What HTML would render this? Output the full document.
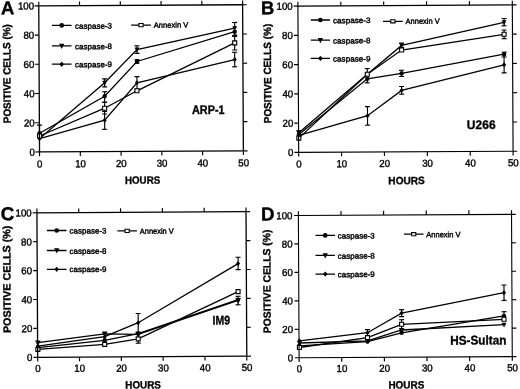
<!DOCTYPE html>
<html><head><meta charset="utf-8"><title>Figure</title>
<style>
html,body{margin:0;padding:0;background:#fff;}
svg{display:block;font-family:"Liberation Sans", sans-serif;}
</style></head><body>
<svg width="520" height="389" viewBox="0 0 520 389">
<defs><filter id="soft" x="0" y="0" width="520" height="389" filterUnits="userSpaceOnUse"><feGaussianBlur stdDeviation="0.35"/></filter></defs>
<rect width="520" height="389" fill="#fff"/>
<g filter="url(#soft)">
<g transform="rotate(-0.3 141.07 78.35)" fill="#000">
<text x="39.35" y="166.90" font-size="10.2" stroke="#000" stroke-width="0.4" text-anchor="middle" textLength="5.40" lengthAdjust="spacingAndGlyphs">0</text>
<text x="80.12" y="166.90" font-size="10.2" stroke="#000" stroke-width="0.4" text-anchor="middle" textLength="10.80" lengthAdjust="spacingAndGlyphs">10</text>
<text x="120.89" y="166.90" font-size="10.2" stroke="#000" stroke-width="0.4" text-anchor="middle" textLength="10.80" lengthAdjust="spacingAndGlyphs">20</text>
<text x="161.66" y="166.90" font-size="10.2" stroke="#000" stroke-width="0.4" text-anchor="middle" textLength="10.80" lengthAdjust="spacingAndGlyphs">30</text>
<text x="202.43" y="166.90" font-size="10.2" stroke="#000" stroke-width="0.4" text-anchor="middle" textLength="10.80" lengthAdjust="spacingAndGlyphs">40</text>
<text x="243.20" y="166.90" font-size="10.2" stroke="#000" stroke-width="0.4" text-anchor="middle" textLength="10.80" lengthAdjust="spacingAndGlyphs">50</text>
<text x="34.45" y="155.05" font-size="10.2" stroke="#000" stroke-width="0.4" text-anchor="end" textLength="5.40" lengthAdjust="spacingAndGlyphs">0</text>
<text x="34.45" y="125.83" font-size="10.2" stroke="#000" stroke-width="0.4" text-anchor="end" textLength="10.80" lengthAdjust="spacingAndGlyphs">20</text>
<text x="34.45" y="96.61" font-size="10.2" stroke="#000" stroke-width="0.4" text-anchor="end" textLength="10.80" lengthAdjust="spacingAndGlyphs">40</text>
<text x="34.45" y="67.39" font-size="10.2" stroke="#000" stroke-width="0.4" text-anchor="end" textLength="10.80" lengthAdjust="spacingAndGlyphs">60</text>
<text x="34.45" y="38.17" font-size="10.2" stroke="#000" stroke-width="0.4" text-anchor="end" textLength="10.80" lengthAdjust="spacingAndGlyphs">80</text>
<text x="34.45" y="8.95" font-size="10.2" stroke="#000" stroke-width="0.4" text-anchor="end" textLength="16.20" lengthAdjust="spacingAndGlyphs">100</text>
<text x="142.05" y="183.81" font-size="10.6" font-weight="bold" stroke="#000" stroke-width="0.35" text-anchor="middle" textLength="35.20" lengthAdjust="spacingAndGlyphs">HOURS</text>
<text x="10.53" y="73.02" font-size="10.4" font-weight="bold" stroke="#000" stroke-width="0.35" text-anchor="middle" textLength="99.00" lengthAdjust="spacingAndGlyphs" transform="rotate(-90 10.53 73.02)">POSITIVE CELLS (%)</text>
<text x="1.24" y="13.47" font-size="18.5" font-weight="bold" stroke="#000" stroke-width="0.35">A</text>
<text x="191.81" y="114.32" font-size="12.4" font-weight="bold" stroke="#000" stroke-width="0.35" textLength="32.60" lengthAdjust="spacingAndGlyphs">ARP-1</text>
<polyline points="39.29,137.97 104.63,82.61 137.15,49.48 234.96,28.69" fill="none" stroke="#000" stroke-width="1.3"/>
<polyline points="39.31,132.77 104.56,96.11 137.09,61.48 234.94,32.19" fill="none" stroke="#000" stroke-width="1.3"/>
<polyline points="39.29,137.97 104.43,120.01 136.98,82.78 234.80,60.09" fill="none" stroke="#000" stroke-width="1.3"/>
<polyline points="39.30,135.47 104.49,108.01 136.93,90.78 234.88,43.39" fill="none" stroke="#000" stroke-width="1.3"/>
<path d="M104.63,78.71V86.71M102.13,78.71h5.0M102.13,86.71h5.0M137.15,45.78V53.38M134.65,45.78h5.0M134.65,53.38h5.0M234.96,22.94V28.69M232.46,22.94h5.0M39.31,124.57V132.77M36.81,124.57h5.0M104.56,91.51V101.81M102.06,91.51h5.0M102.06,101.81h5.0M137.09,59.68V63.28M134.59,59.68h5.0M134.59,63.28h5.0M234.94,32.19V35.69M232.44,35.69h5.0M104.43,111.31V129.11M101.93,111.31h5.0M101.93,129.11h5.0M136.98,76.58V88.98M134.48,76.58h5.0M134.48,88.98h5.0M234.80,52.79V67.29M232.30,52.79h5.0M232.30,67.29h5.0M104.49,102.21V113.81M101.99,102.21h5.0M101.99,113.81h5.0M234.88,36.89V50.49M232.38,36.89h5.0M232.38,50.49h5.0" fill="none" stroke="#000" stroke-width="1.15"/>
<polygon points="36.84,135.97 41.74,135.97 39.29,140.87"/>
<polygon points="102.18,80.61 107.08,80.61 104.63,85.51"/>
<polygon points="134.70,47.48 139.60,47.48 137.15,52.38"/>
<polygon points="232.51,26.69 237.41,26.69 234.96,31.59"/>
<circle cx="39.31" cy="132.77" r="2.20"/>
<circle cx="104.56" cy="96.11" r="2.20"/>
<circle cx="137.09" cy="61.48" r="2.20"/>
<circle cx="234.94" cy="32.19" r="2.20"/>
<polygon points="37.19,137.97 39.29,135.47 41.39,137.97 39.29,140.47"/>
<polygon points="102.33,120.01 104.43,117.51 106.53,120.01 104.43,122.51"/>
<polygon points="134.88,82.78 136.98,80.28 139.08,82.78 136.98,85.28"/>
<polygon points="232.70,60.09 234.80,57.59 236.90,60.09 234.80,62.59"/>
<rect x="37.30" y="133.47" width="4.00" height="4.00" fill="#fff" stroke="#000" stroke-width="1.1"/>
<rect x="102.49" y="106.01" width="4.00" height="4.00" fill="#fff" stroke="#000" stroke-width="1.1"/>
<rect x="134.93" y="88.78" width="4.00" height="4.00" fill="#fff" stroke="#000" stroke-width="1.1"/>
<rect x="232.88" y="41.39" width="4.00" height="4.00" fill="#fff" stroke="#000" stroke-width="1.1"/>
<path d="M39.15,5.30H243.00V151.40H39.15Z" fill="none" stroke="#000" stroke-width="1.3"/>
<path d="M39.15,151.40v4.2M39.15,5.30v-4.2M79.92,151.40v4.2M79.92,5.30v-4.2M120.69,151.40v4.2M120.69,5.30v-4.2M161.46,151.40v4.2M161.46,5.30v-4.2M202.23,151.40v4.2M202.23,5.30v-4.2M243.00,151.40v4.2M243.00,5.30v-4.2M39.15,151.40h-4.2M243.00,151.40h4.2M39.15,122.18h-4.2M243.00,122.18h4.2M39.15,92.96h-4.2M243.00,92.96h4.2M39.15,63.74h-4.2M243.00,63.74h4.2M39.15,34.52h-4.2M243.00,34.52h4.2M39.15,5.30h-4.2M243.00,5.30h4.2" fill="none" stroke="#000" stroke-width="1.15"/>
<path d="M52.18,24.93L71.78,25.04" stroke="#000" stroke-width="1.3"/>
<circle cx="61.98" cy="24.99" r="2.35"/>
<text x="75.31" y="28.45" font-size="7.8" stroke="#000" stroke-width="0.4" textLength="37.00" lengthAdjust="spacingAndGlyphs">caspase-3</text>
<path d="M52.07,45.43L71.67,45.54" stroke="#000" stroke-width="1.3"/>
<polygon points="59.25,43.34 64.49,43.34 61.87,48.59"/>
<text x="75.20" y="48.95" font-size="7.8" stroke="#000" stroke-width="0.4" textLength="37.00" lengthAdjust="spacingAndGlyphs">caspase-8</text>
<path d="M51.98,63.73L71.58,63.84" stroke="#000" stroke-width="1.3"/>
<polygon points="59.53,63.78 61.78,61.11 64.02,63.78 61.78,66.46"/>
<text x="75.11" y="66.95" font-size="7.8" stroke="#000" stroke-width="0.4" textLength="37.00" lengthAdjust="spacingAndGlyphs">caspase-9</text>
<path d="M131.48,25.05L151.18,25.15" stroke="#000" stroke-width="1.3"/>
<rect x="139.23" y="23.50" width="4.20" height="3.20" fill="#fff" stroke="#000" stroke-width="1.1"/>
<text x="154.07" y="27.77" font-size="7.8" stroke="#000" stroke-width="0.4" textLength="34.60" lengthAdjust="spacingAndGlyphs">Annexin V</text>
</g>
<g transform="rotate(-0.3 405.50 78.65)" fill="#000">
<text x="298.50" y="166.90" font-size="10.2" stroke="#000" stroke-width="0.4" text-anchor="middle" textLength="5.40" lengthAdjust="spacingAndGlyphs">0</text>
<text x="341.38" y="166.90" font-size="10.2" stroke="#000" stroke-width="0.4" text-anchor="middle" textLength="10.80" lengthAdjust="spacingAndGlyphs">10</text>
<text x="384.26" y="166.90" font-size="10.2" stroke="#000" stroke-width="0.4" text-anchor="middle" textLength="10.80" lengthAdjust="spacingAndGlyphs">20</text>
<text x="427.14" y="166.90" font-size="10.2" stroke="#000" stroke-width="0.4" text-anchor="middle" textLength="10.80" lengthAdjust="spacingAndGlyphs">30</text>
<text x="470.02" y="166.90" font-size="10.2" stroke="#000" stroke-width="0.4" text-anchor="middle" textLength="10.80" lengthAdjust="spacingAndGlyphs">40</text>
<text x="512.90" y="166.90" font-size="10.2" stroke="#000" stroke-width="0.4" text-anchor="middle" textLength="10.80" lengthAdjust="spacingAndGlyphs">50</text>
<text x="293.10" y="155.45" font-size="10.2" stroke="#000" stroke-width="0.4" text-anchor="end" textLength="5.40" lengthAdjust="spacingAndGlyphs">0</text>
<text x="293.10" y="126.19" font-size="10.2" stroke="#000" stroke-width="0.4" text-anchor="end" textLength="10.80" lengthAdjust="spacingAndGlyphs">20</text>
<text x="293.10" y="96.93" font-size="10.2" stroke="#000" stroke-width="0.4" text-anchor="end" textLength="10.80" lengthAdjust="spacingAndGlyphs">40</text>
<text x="293.10" y="67.67" font-size="10.2" stroke="#000" stroke-width="0.4" text-anchor="end" textLength="10.80" lengthAdjust="spacingAndGlyphs">60</text>
<text x="293.10" y="38.41" font-size="10.2" stroke="#000" stroke-width="0.4" text-anchor="end" textLength="10.80" lengthAdjust="spacingAndGlyphs">80</text>
<text x="293.10" y="9.15" font-size="10.2" stroke="#000" stroke-width="0.4" text-anchor="end" textLength="16.20" lengthAdjust="spacingAndGlyphs">100</text>
<text x="406.05" y="184.20" font-size="10.6" font-weight="bold" stroke="#000" stroke-width="0.35" text-anchor="middle" textLength="36.50" lengthAdjust="spacingAndGlyphs">HOURS</text>
<text x="271.13" y="72.80" font-size="10.4" font-weight="bold" stroke="#000" stroke-width="0.35" text-anchor="middle" textLength="99.50" lengthAdjust="spacingAndGlyphs" transform="rotate(-90 271.13 72.80)">POSITIVE CELLS (%)</text>
<text x="261.34" y="13.44" font-size="18.5" font-weight="bold" stroke="#000" stroke-width="0.35">B</text>
<text x="466.54" y="129.37" font-size="12.4" font-weight="bold" stroke="#000" stroke-width="0.35" textLength="28.80" lengthAdjust="spacingAndGlyphs">U266</text>
<polyline points="298.57,132.24 367.32,74.10 401.77,45.38 504.39,22.87" fill="none" stroke="#000" stroke-width="1.3"/>
<polyline points="298.56,133.94 367.30,78.60 401.63,73.38 504.23,54.72" fill="none" stroke="#000" stroke-width="1.3"/>
<polyline points="298.55,134.74 367.31,115.50 401.54,90.38 504.17,65.32" fill="none" stroke="#000" stroke-width="1.3"/>
<polyline points="298.54,137.59 367.32,74.10 401.75,49.98 504.33,34.82" fill="none" stroke="#000" stroke-width="1.3"/>
<path d="M298.57,130.14V132.24M296.07,130.14h5.0M401.77,43.08V47.68M399.27,43.08h5.0M399.27,47.68h5.0M504.39,19.02V26.32M501.89,19.02h5.0M501.89,26.32h5.0M367.30,78.60V82.60M364.80,82.60h5.0M401.63,70.28V76.48M399.13,70.28h5.0M399.13,76.48h5.0M504.23,52.72V57.52M501.73,52.72h5.0M501.73,57.52h5.0M367.31,106.40V125.00M364.81,106.40h5.0M364.81,125.00h5.0M401.54,86.48V94.18M399.04,86.48h5.0M399.04,94.18h5.0M504.17,57.52V73.42M501.67,57.52h5.0M501.67,73.42h5.0M367.32,68.30V74.10M364.82,68.30h5.0M504.33,30.52V39.22M501.83,30.52h5.0M501.83,39.22h5.0" fill="none" stroke="#000" stroke-width="1.15"/>
<polygon points="296.12,130.24 301.02,130.24 298.57,135.14"/>
<polygon points="364.87,72.10 369.77,72.10 367.32,77.00"/>
<polygon points="399.32,43.38 404.22,43.38 401.77,48.28"/>
<polygon points="501.94,20.87 506.84,20.87 504.39,25.77"/>
<circle cx="298.56" cy="133.94" r="2.20"/>
<circle cx="367.30" cy="78.60" r="2.20"/>
<circle cx="401.63" cy="73.38" r="2.20"/>
<circle cx="504.23" cy="54.72" r="2.20"/>
<polygon points="296.45,134.74 298.55,132.24 300.65,134.74 298.55,137.24"/>
<polygon points="365.21,115.50 367.31,113.00 369.41,115.50 367.31,118.00"/>
<polygon points="399.44,90.38 401.54,87.88 403.64,90.38 401.54,92.88"/>
<polygon points="502.07,65.32 504.17,62.82 506.27,65.32 504.17,67.82"/>
<rect x="296.54" y="135.59" width="4.00" height="4.00" fill="#fff" stroke="#000" stroke-width="1.1"/>
<rect x="365.32" y="72.10" width="4.00" height="4.00" fill="#fff" stroke="#000" stroke-width="1.1"/>
<rect x="399.75" y="47.98" width="4.00" height="4.00" fill="#fff" stroke="#000" stroke-width="1.1"/>
<rect x="502.33" y="32.82" width="4.00" height="4.00" fill="#fff" stroke="#000" stroke-width="1.1"/>
<path d="M298.30,5.50H512.70V151.80H298.30Z" fill="none" stroke="#000" stroke-width="1.15"/>
<path d="M298.30,151.80v4.2M298.30,5.50v-4.2M341.18,151.80v4.2M341.18,5.50v-4.2M384.06,151.80v4.2M384.06,5.50v-4.2M426.94,151.80v4.2M426.94,5.50v-4.2M469.82,151.80v4.2M469.82,5.50v-4.2M512.70,151.80v4.2M512.70,5.50v-4.2M298.30,151.80h-4.2M512.70,151.80h4.2M298.30,122.54h-4.2M512.70,122.54h4.2M298.30,93.28h-4.2M512.70,93.28h4.2M298.30,64.02h-4.2M512.70,64.02h4.2M298.30,34.76h-4.2M512.70,34.76h4.2M298.30,5.50h-4.2M512.70,5.50h4.2" fill="none" stroke="#000" stroke-width="1.15"/>
<path d="M311.11,19.50L330.31,19.61" stroke="#000" stroke-width="1.3"/>
<circle cx="320.71" cy="19.56" r="2.35"/>
<text x="333.29" y="22.82" font-size="7.8" stroke="#000" stroke-width="0.4" textLength="37.60" lengthAdjust="spacingAndGlyphs">caspase-3</text>
<path d="M311.00,39.70L330.20,39.81" stroke="#000" stroke-width="1.3"/>
<polygon points="317.98,37.61 323.22,37.61 320.60,42.86"/>
<text x="333.19" y="43.12" font-size="7.8" stroke="#000" stroke-width="0.4" textLength="37.60" lengthAdjust="spacingAndGlyphs">caspase-8</text>
<path d="M310.91,57.90L330.11,58.00" stroke="#000" stroke-width="1.3"/>
<polygon points="318.26,57.95 320.51,55.28 322.75,57.95 320.51,60.63"/>
<text x="333.09" y="61.22" font-size="7.8" stroke="#000" stroke-width="0.4" textLength="37.60" lengthAdjust="spacingAndGlyphs">caspase-9</text>
<path d="M383.30,21.18L403.10,21.29" stroke="#000" stroke-width="1.3"/>
<rect x="391.10" y="19.63" width="4.20" height="3.20" fill="#fff" stroke="#000" stroke-width="1.1"/>
<text x="405.89" y="23.90" font-size="7.8" stroke="#000" stroke-width="0.4" textLength="34.20" lengthAdjust="spacingAndGlyphs">Annexin V</text>
</g>
<g transform="rotate(-0.3 141.85 284.50)" fill="#000">
<text x="37.50" y="371.50" font-size="10.2" stroke="#000" stroke-width="0.4" text-anchor="middle" textLength="5.40" lengthAdjust="spacingAndGlyphs">0</text>
<text x="79.32" y="371.50" font-size="10.2" stroke="#000" stroke-width="0.4" text-anchor="middle" textLength="10.80" lengthAdjust="spacingAndGlyphs">10</text>
<text x="121.14" y="371.50" font-size="10.2" stroke="#000" stroke-width="0.4" text-anchor="middle" textLength="10.80" lengthAdjust="spacingAndGlyphs">20</text>
<text x="162.96" y="371.50" font-size="10.2" stroke="#000" stroke-width="0.4" text-anchor="middle" textLength="10.80" lengthAdjust="spacingAndGlyphs">30</text>
<text x="204.78" y="371.50" font-size="10.2" stroke="#000" stroke-width="0.4" text-anchor="middle" textLength="10.80" lengthAdjust="spacingAndGlyphs">40</text>
<text x="246.60" y="371.50" font-size="10.2" stroke="#000" stroke-width="0.4" text-anchor="middle" textLength="10.80" lengthAdjust="spacingAndGlyphs">50</text>
<text x="32.10" y="360.40" font-size="10.2" stroke="#000" stroke-width="0.4" text-anchor="end" textLength="5.40" lengthAdjust="spacingAndGlyphs">0</text>
<text x="32.10" y="331.50" font-size="10.2" stroke="#000" stroke-width="0.4" text-anchor="end" textLength="10.80" lengthAdjust="spacingAndGlyphs">20</text>
<text x="32.10" y="302.60" font-size="10.2" stroke="#000" stroke-width="0.4" text-anchor="end" textLength="10.80" lengthAdjust="spacingAndGlyphs">40</text>
<text x="32.10" y="273.70" font-size="10.2" stroke="#000" stroke-width="0.4" text-anchor="end" textLength="10.80" lengthAdjust="spacingAndGlyphs">60</text>
<text x="32.10" y="244.80" font-size="10.2" stroke="#000" stroke-width="0.4" text-anchor="end" textLength="10.80" lengthAdjust="spacingAndGlyphs">80</text>
<text x="32.10" y="215.90" font-size="10.2" stroke="#000" stroke-width="0.4" text-anchor="end" textLength="16.20" lengthAdjust="spacingAndGlyphs">100</text>
<text x="142.56" y="388.51" font-size="10.6" font-weight="bold" stroke="#000" stroke-width="0.35" text-anchor="middle" textLength="35.60" lengthAdjust="spacingAndGlyphs">HOURS</text>
<text x="10.53" y="278.61" font-size="10.6" font-weight="bold" stroke="#000" stroke-width="0.35" text-anchor="middle" textLength="107.50" lengthAdjust="spacingAndGlyphs" transform="rotate(-90 10.53 278.61)">POSITIVE CELLS (%)</text>
<text x="1.04" y="219.46" font-size="18.8" font-weight="bold" stroke="#000" stroke-width="0.35">C</text>
<text x="212.39" y="324.97" font-size="12.5" font-weight="bold" stroke="#000" stroke-width="0.35" textLength="17.60" lengthAdjust="spacingAndGlyphs">IM9</text>
<polyline points="37.60,342.15 104.44,333.60 137.94,334.28 238.02,300.80" fill="none" stroke="#000" stroke-width="1.3"/>
<polyline points="37.57,347.05 104.41,340.10 137.94,333.58 238.02,300.10" fill="none" stroke="#000" stroke-width="1.3"/>
<polyline points="37.58,345.55 104.43,336.50 138.00,322.68 238.21,264.10" fill="none" stroke="#000" stroke-width="1.3"/>
<polyline points="37.56,348.85 104.39,344.20 137.92,338.88 238.06,292.15" fill="none" stroke="#000" stroke-width="1.3"/>
<path d="M238.02,296.80V305.30M235.52,296.80h5.0M235.52,305.30h5.0M138.00,313.48V331.98M135.50,313.48h5.0M135.50,331.98h5.0M238.21,257.75V270.10M235.71,257.75h5.0M235.71,270.10h5.0M137.92,338.88V343.18M135.42,343.18h5.0" fill="none" stroke="#000" stroke-width="1.15"/>
<polygon points="34.78,339.85 40.41,339.85 37.60,345.49"/>
<polygon points="101.62,331.30 107.26,331.30 104.44,336.94"/>
<polygon points="135.12,331.98 140.76,331.98 137.94,337.62"/>
<polygon points="235.20,298.50 240.83,298.50 238.02,304.14"/>
<circle cx="37.57" cy="347.05" r="2.20"/>
<circle cx="104.41" cy="340.10" r="2.20"/>
<circle cx="137.94" cy="333.58" r="2.20"/>
<circle cx="238.02" cy="300.10" r="2.20"/>
<polygon points="35.48,345.55 37.58,343.05 39.68,345.55 37.58,348.05"/>
<polygon points="102.33,336.50 104.43,334.00 106.53,336.50 104.43,339.00"/>
<polygon points="135.90,322.68 138.00,320.18 140.10,322.68 138.00,325.18"/>
<polygon points="236.11,264.10 238.21,261.60 240.31,264.10 238.21,266.60"/>
<rect x="35.56" y="346.85" width="4.00" height="4.00" fill="#fff" stroke="#000" stroke-width="1.1"/>
<rect x="102.39" y="342.20" width="4.00" height="4.00" fill="#fff" stroke="#000" stroke-width="1.1"/>
<rect x="135.92" y="336.88" width="4.00" height="4.00" fill="#fff" stroke="#000" stroke-width="1.1"/>
<rect x="236.06" y="290.15" width="4.00" height="4.00" fill="#fff" stroke="#000" stroke-width="1.1"/>
<path d="M37.30,212.25H246.40V356.75H37.30Z" fill="none" stroke="#000" stroke-width="1.3"/>
<path d="M37.30,356.75v4.2M37.30,212.25v-4.2M79.12,356.75v4.2M79.12,212.25v-4.2M120.94,356.75v4.2M120.94,212.25v-4.2M162.76,356.75v4.2M162.76,212.25v-4.2M204.58,356.75v4.2M204.58,212.25v-4.2M246.40,356.75v4.2M246.40,212.25v-4.2M37.30,356.75h-4.2M246.40,356.75h4.2M37.30,327.85h-4.2M246.40,327.85h4.2M37.30,298.95h-4.2M246.40,298.95h4.2M37.30,270.05h-4.2M246.40,270.05h4.2M37.30,241.15h-4.2M246.40,241.15h4.2M37.30,212.25h-4.2M246.40,212.25h4.2" fill="none" stroke="#000" stroke-width="1.15"/>
<path d="M47.18,230.00L66.78,230.11" stroke="#000" stroke-width="1.3"/>
<circle cx="56.98" cy="230.05" r="2.35"/>
<text x="69.87" y="233.22" font-size="7.8" stroke="#000" stroke-width="0.4" textLength="37.00" lengthAdjust="spacingAndGlyphs">caspase-3</text>
<path d="M47.08,250.00L66.68,250.11" stroke="#000" stroke-width="1.3"/>
<polygon points="54.26,247.91 59.50,247.91 56.88,253.16"/>
<text x="69.76" y="253.52" font-size="7.8" stroke="#000" stroke-width="0.4" textLength="37.00" lengthAdjust="spacingAndGlyphs">caspase-8</text>
<path d="M46.98,268.80L66.58,268.91" stroke="#000" stroke-width="1.3"/>
<polygon points="54.53,268.85 56.78,266.18 59.03,268.85 56.78,271.53"/>
<text x="69.67" y="271.72" font-size="7.8" stroke="#000" stroke-width="0.4" textLength="37.00" lengthAdjust="spacingAndGlyphs">caspase-9</text>
<path d="M117.68,230.72L137.18,230.82" stroke="#000" stroke-width="1.3"/>
<rect x="125.33" y="229.17" width="4.20" height="3.20" fill="#fff" stroke="#000" stroke-width="1.1"/>
<text x="140.06" y="233.89" font-size="7.8" stroke="#000" stroke-width="0.4" textLength="34.00" lengthAdjust="spacingAndGlyphs">Annexin V</text>
</g>
<g transform="rotate(-0.3 405.32 286.05)" fill="#000">
<text x="298.95" y="371.70" font-size="10.2" stroke="#000" stroke-width="0.4" text-anchor="middle" textLength="5.40" lengthAdjust="spacingAndGlyphs">0</text>
<text x="341.58" y="371.70" font-size="10.2" stroke="#000" stroke-width="0.4" text-anchor="middle" textLength="10.80" lengthAdjust="spacingAndGlyphs">10</text>
<text x="384.21" y="371.70" font-size="10.2" stroke="#000" stroke-width="0.4" text-anchor="middle" textLength="10.80" lengthAdjust="spacingAndGlyphs">20</text>
<text x="426.84" y="371.70" font-size="10.2" stroke="#000" stroke-width="0.4" text-anchor="middle" textLength="10.80" lengthAdjust="spacingAndGlyphs">30</text>
<text x="469.47" y="371.70" font-size="10.2" stroke="#000" stroke-width="0.4" text-anchor="middle" textLength="10.80" lengthAdjust="spacingAndGlyphs">40</text>
<text x="512.10" y="371.70" font-size="10.2" stroke="#000" stroke-width="0.4" text-anchor="middle" textLength="10.80" lengthAdjust="spacingAndGlyphs">50</text>
<text x="292.85" y="360.85" font-size="10.2" stroke="#000" stroke-width="0.4" text-anchor="end" textLength="5.40" lengthAdjust="spacingAndGlyphs">0</text>
<text x="292.85" y="332.39" font-size="10.2" stroke="#000" stroke-width="0.4" text-anchor="end" textLength="10.80" lengthAdjust="spacingAndGlyphs">20</text>
<text x="292.85" y="303.93" font-size="10.2" stroke="#000" stroke-width="0.4" text-anchor="end" textLength="10.80" lengthAdjust="spacingAndGlyphs">40</text>
<text x="292.85" y="275.47" font-size="10.2" stroke="#000" stroke-width="0.4" text-anchor="end" textLength="10.80" lengthAdjust="spacingAndGlyphs">60</text>
<text x="292.85" y="247.01" font-size="10.2" stroke="#000" stroke-width="0.4" text-anchor="end" textLength="10.80" lengthAdjust="spacingAndGlyphs">80</text>
<text x="292.85" y="218.55" font-size="10.2" stroke="#000" stroke-width="0.4" text-anchor="end" textLength="16.20" lengthAdjust="spacingAndGlyphs">100</text>
<text x="405.86" y="388.50" font-size="10.6" font-weight="bold" stroke="#000" stroke-width="0.35" text-anchor="middle" textLength="36.00" lengthAdjust="spacingAndGlyphs">HOURS</text>
<text x="270.53" y="280.69" font-size="10.4" font-weight="bold" stroke="#000" stroke-width="0.35" text-anchor="middle" textLength="103.50" lengthAdjust="spacingAndGlyphs" transform="rotate(-90 270.53 280.69)">POSITIVE CELLS (%)</text>
<text x="261.35" y="219.65" font-size="18.8" font-weight="bold" stroke="#000" stroke-width="0.35">D</text>
<text x="449.89" y="344.93" font-size="12.7" font-weight="bold" stroke="#000" stroke-width="0.35" textLength="56.20" lengthAdjust="spacingAndGlyphs">HS-Sultan</text>
<polyline points="299.10,342.44 367.21,340.60 401.37,329.98 503.80,325.22" fill="none" stroke="#000" stroke-width="1.3"/>
<polyline points="299.09,345.24 367.21,341.40 401.36,332.78 503.84,316.42" fill="none" stroke="#000" stroke-width="1.3"/>
<polyline points="299.11,340.24 367.26,332.50 401.46,313.08 503.96,293.22" fill="none" stroke="#000" stroke-width="1.3"/>
<polyline points="299.08,346.94 367.23,337.40 401.40,324.28 503.82,319.82" fill="none" stroke="#000" stroke-width="1.3"/>
<path d="M503.84,312.22V316.42M501.34,312.22h5.0M367.26,329.40V335.60M364.76,329.40h5.0M364.76,335.60h5.0M401.46,309.58V316.58M398.96,309.58h5.0M398.96,316.58h5.0M503.96,285.52V300.97M501.46,285.52h5.0M501.46,300.97h5.0M401.40,319.68V328.88M398.90,319.68h5.0M398.90,328.88h5.0" fill="none" stroke="#000" stroke-width="1.15"/>
<polygon points="296.65,340.44 301.55,340.44 299.10,345.34"/>
<polygon points="364.76,338.60 369.66,338.60 367.21,343.50"/>
<polygon points="398.92,327.98 403.82,327.98 401.37,332.88"/>
<polygon points="501.35,323.22 506.25,323.22 503.80,328.12"/>
<circle cx="299.09" cy="345.24" r="2.20"/>
<circle cx="367.21" cy="341.40" r="2.20"/>
<circle cx="401.36" cy="332.78" r="2.20"/>
<circle cx="503.84" cy="316.42" r="2.20"/>
<polygon points="297.01,340.24 299.11,337.74 301.21,340.24 299.11,342.74"/>
<polygon points="365.16,332.50 367.26,330.00 369.36,332.50 367.26,335.00"/>
<polygon points="399.36,313.08 401.46,310.58 403.56,313.08 401.46,315.58"/>
<polygon points="501.86,293.22 503.96,290.72 506.06,293.22 503.96,295.72"/>
<rect x="297.08" y="344.94" width="4.00" height="4.00" fill="#fff" stroke="#000" stroke-width="1.1"/>
<rect x="365.23" y="335.40" width="4.00" height="4.00" fill="#fff" stroke="#000" stroke-width="1.1"/>
<rect x="399.40" y="322.28" width="4.00" height="4.00" fill="#fff" stroke="#000" stroke-width="1.1"/>
<rect x="501.82" y="317.82" width="4.00" height="4.00" fill="#fff" stroke="#000" stroke-width="1.1"/>
<path d="M298.75,214.90H511.90V357.20H298.75Z" fill="none" stroke="#000" stroke-width="1.1"/>
<path d="M298.75,357.20v4.2M298.75,214.90v-4.2M341.38,357.20v4.2M341.38,214.90v-4.2M384.01,357.20v4.2M384.01,214.90v-4.2M426.64,357.20v4.2M426.64,214.90v-4.2M469.27,357.20v4.2M469.27,214.90v-4.2M511.90,357.20v4.2M511.90,214.90v-4.2M298.75,357.20h-4.2M511.90,357.20h4.2M298.75,328.74h-4.2M511.90,328.74h4.2M298.75,300.28h-4.2M511.90,300.28h4.2M298.75,271.82h-4.2M511.90,271.82h4.2M298.75,243.36h-4.2M511.90,243.36h4.2M298.75,214.90h-4.2M511.90,214.90h4.2" fill="none" stroke="#000" stroke-width="1.15"/>
<path d="M315.77,234.93L335.27,235.03" stroke="#000" stroke-width="1.3"/>
<circle cx="325.52" cy="234.98" r="2.35"/>
<text x="338.05" y="238.25" font-size="7.8" stroke="#000" stroke-width="0.4" textLength="37.00" lengthAdjust="spacingAndGlyphs">caspase-3</text>
<path d="M315.66,254.93L335.16,255.03" stroke="#000" stroke-width="1.3"/>
<polygon points="322.79,252.84 328.03,252.84 325.41,258.08"/>
<text x="337.94" y="258.35" font-size="7.8" stroke="#000" stroke-width="0.4" textLength="37.00" lengthAdjust="spacingAndGlyphs">caspase-8</text>
<path d="M315.56,273.63L335.06,273.73" stroke="#000" stroke-width="1.3"/>
<polygon points="323.07,273.68 325.31,271.01 327.56,273.68 325.31,276.36"/>
<text x="337.85" y="276.85" font-size="7.8" stroke="#000" stroke-width="0.4" textLength="37.00" lengthAdjust="spacingAndGlyphs">caspase-9</text>
<path d="M404.17,234.19L423.77,234.30" stroke="#000" stroke-width="1.3"/>
<rect x="411.87" y="232.64" width="4.20" height="3.20" fill="#fff" stroke="#000" stroke-width="1.1"/>
<text x="426.55" y="237.41" font-size="7.8" stroke="#000" stroke-width="0.4" textLength="34.30" lengthAdjust="spacingAndGlyphs">Annexin V</text>
</g>
</g>
</svg>
</body></html>
